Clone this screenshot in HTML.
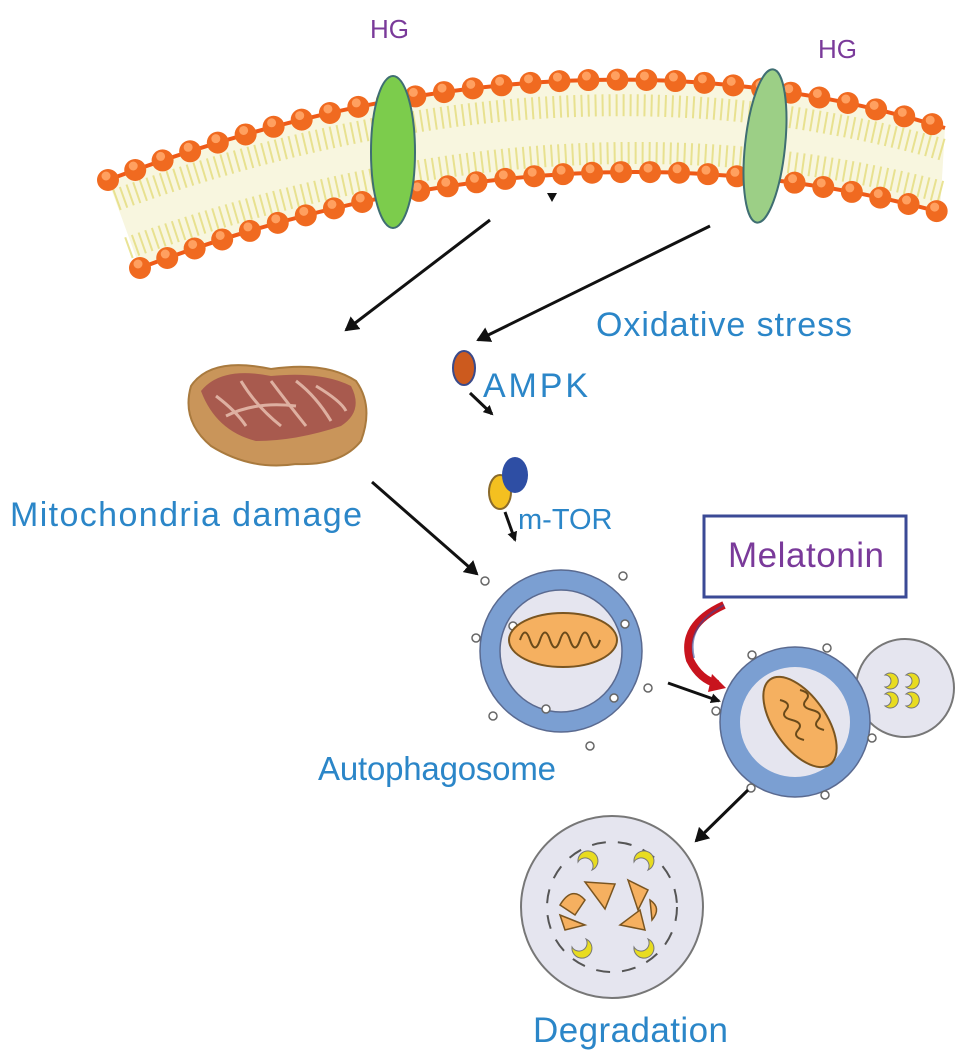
<!DOCTYPE html>
<html><head><meta charset="utf-8"><style>
html,body{margin:0;padding:0;background:#fff;}
svg{display:block;}
text{font-family:"Liberation Sans",sans-serif;}
</style></head><body>
<svg width="969" height="1061" viewBox="0 0 969 1061" xmlns="http://www.w3.org/2000/svg">
<defs>
<marker id="ah" markerWidth="10" markerHeight="10" refX="8" refY="5" orient="auto" markerUnits="userSpaceOnUse">
<path d="M0,0 L10,5 L0,10 z" fill="#111"/></marker>
<marker id="ah2" markerWidth="16" markerHeight="16" refX="12" refY="8" orient="auto" markerUnits="userSpaceOnUse">
<path d="M0,0 L14,8 L0,16 z" fill="#111"/></marker>
</defs>
<path d="M108,180 Q560,10 945,128 L940,212 Q560,110 140,268 Z" fill="#f8f6df"/>
<path d="M116,200 Q560,40 944,150" fill="none" stroke="#e3dc7a" stroke-width="22" stroke-dasharray="2 5" opacity="0.8"/>
<path d="M128,248 Q560,92 942,192" fill="none" stroke="#e3dc7a" stroke-width="22" stroke-dasharray="2 5" opacity="0.8"/>
<path d="M108,180 Q560,10 945,128" fill="none" stroke="#ef5a18" stroke-width="4"/>
<path d="M140,268 Q560,110 940,212" fill="none" stroke="#ef5a18" stroke-width="4"/>
<path d="M108,180 Q560,10 945,128" fill="none" stroke="#f06a20" stroke-width="22" stroke-linecap="round" stroke-dasharray="0 29"/>
<path d="M140,268 Q560,110 940,212" fill="none" stroke="#f06a20" stroke-width="22" stroke-linecap="round" stroke-dasharray="0 29"/>
<path d="M108,180 Q560,10 945,128" fill="none" stroke="#ffa060" stroke-width="9" stroke-linecap="round" stroke-dasharray="0 29" transform="translate(-2,-4)"/>
<path d="M140,268 Q560,110 940,212" fill="none" stroke="#ffa060" stroke-width="9" stroke-linecap="round" stroke-dasharray="0 29" transform="translate(-2,-4)"/>
<ellipse cx="393" cy="152" rx="22" ry="76" fill="#7ccc4c" stroke="#3f6e72" stroke-width="2"/>
<ellipse cx="765" cy="146" rx="20" ry="77" fill="#9ccf86" stroke="#3f6e72" stroke-width="2" transform="rotate(6 765 146)"/>
<path d="M547,193 L557,193 L552,202 z" fill="#111"/>
<text x="370" y="38" font-size="26" fill="#7a3a9a">HG</text>
<text x="818" y="58" font-size="26" fill="#7a3a9a">HG</text>
<line x1="490" y1="220" x2="346" y2="330" stroke="#111" stroke-width="3" marker-end="url(#ah2)"/>
<line x1="710" y1="226" x2="478" y2="340" stroke="#111" stroke-width="3" marker-end="url(#ah2)"/>
<text x="596" y="336" font-size="34" fill="#2b86c8" textLength="256">Oxidative stress</text>
<g transform="translate(-4,-14)">
<path d="M195,400 Q215,370 275,383 Q330,375 360,395 Q378,420 365,455 Q345,480 300,478 Q255,485 215,460 Q185,435 195,400 z" fill="#c9955a" stroke="#a97a3e" stroke-width="2"/>
<path d="M205,405 Q225,380 275,390 Q325,385 355,400 Q368,425 345,440 Q300,455 260,455 Q220,445 205,405 z" fill="#a85a4e"/>
<g stroke="#e8c0b0" stroke-width="3" fill="none" opacity="0.85">
<path d="M220,410 Q240,425 250,440"/><path d="M245,395 Q260,420 285,440"/><path d="M275,395 Q290,415 310,440"/><path d="M300,395 Q320,410 335,435"/><path d="M230,430 Q260,415 300,420"/><path d="M320,400 Q345,415 350,425"/>
</g></g>
<text x="10" y="526" font-size="34" fill="#2b86c8" textLength="352">Mitochondria damage</text>
<ellipse cx="464" cy="368" rx="11" ry="17" fill="#cc5a1e" stroke="#3a4a8a" stroke-width="2"/>
<text x="483" y="397" font-size="34" fill="#2b86c8" textLength="105">AMPK</text>
<line x1="470" y1="393" x2="492" y2="414" stroke="#111" stroke-width="3" marker-end="url(#ah)"/>
<ellipse cx="500" cy="492" rx="11" ry="17" fill="#f4c020" stroke="#8a6a2a" stroke-width="2"/>
<ellipse cx="515" cy="475" rx="13" ry="18" fill="#2e4ea4"/>
<text x="518" y="529" font-size="29" fill="#2b86c8">m-TOR</text>
<line x1="505" y1="512" x2="515" y2="540" stroke="#111" stroke-width="3" marker-end="url(#ah)"/>
<line x1="372" y1="482" x2="477" y2="574" stroke="#111" stroke-width="3" marker-end="url(#ah2)"/>
<circle cx="561" cy="651" r="71" fill="#e5e5ef" stroke="#7b9fd2" stroke-width="20"/>
<circle cx="561" cy="651" r="81" fill="none" stroke="#5a6a90" stroke-width="1.5"/>
<circle cx="561" cy="651" r="61" fill="none" stroke="#5a6a90" stroke-width="1.5"/>
<g fill="#fff" stroke="#666" stroke-width="1.5">
<circle cx="476" cy="638" r="4"/><circle cx="513" cy="626" r="4"/><circle cx="625" cy="624" r="4"/><circle cx="648" cy="688" r="4"/><circle cx="614" cy="698" r="4"/><circle cx="493" cy="716" r="4"/><circle cx="546" cy="709" r="4"/><circle cx="590" cy="746" r="4"/><circle cx="485" cy="581" r="4"/><circle cx="623" cy="576" r="4"/>
</g>
<ellipse cx="563" cy="640" rx="54" ry="27" fill="#f5b060" stroke="#7a5520" stroke-width="2"/>
<path d="M520,640 q5,-15 10,0 q5,15 10,0 q5,-15 10,0 q5,15 10,0 q5,-15 10,0 q5,15 10,0 q5,-15 10,0 q5,15 10,0" fill="none" stroke="#6a4a1a" stroke-width="2"/>
<text x="318" y="780" font-size="33" fill="#2b86c8" textLength="238">Autophagosome</text>
<rect x="704" y="516" width="202" height="81" fill="#fff" stroke="#3b4a96" stroke-width="3"/>
<text x="728" y="567" font-size="35" fill="#7a3a9a" textLength="156">Melatonin</text>
<path d="M724,605 Q680,625 690,660 Q700,680 718,684" fill="none" stroke="#c8141e" stroke-width="8"/>
<path d="M724,605 Q686,625 694,658" fill="none" stroke="#3b4a96" stroke-width="2" opacity="0.6"/>
<path d="M712,674 L726,688 L708,692 z" fill="#c8141e"/>
<line x1="668" y1="683" x2="719" y2="701" stroke="#111" stroke-width="3" marker-end="url(#ah)"/>
<circle cx="905" cy="688" r="49" fill="#e5e5ef" stroke="#777" stroke-width="2"/>
<g fill="#e8dc20" stroke="#777" stroke-width="1">
<path d="M885,675 a8,8 0 1 1 0,12 a5,5 0 1 0 0,-12z"/><path d="M906,675 a8,8 0 1 1 0,12 a5,5 0 1 0 0,-12z"/>
<path d="M885,694 a8,8 0 1 1 0,12 a5,5 0 1 0 0,-12z"/><path d="M906,694 a8,8 0 1 1 0,12 a5,5 0 1 0 0,-12z"/>
</g>
<circle cx="795" cy="722" r="65" fill="#e5e5ef" stroke="#7b9fd2" stroke-width="20"/>
<circle cx="795" cy="722" r="75" fill="none" stroke="#5a6a90" stroke-width="1.5"/>
<g fill="#fff" stroke="#666" stroke-width="1.5">
<circle cx="752" cy="655" r="4"/><circle cx="827" cy="648" r="4"/><circle cx="716" cy="711" r="4"/><circle cx="872" cy="738" r="4"/><circle cx="825" cy="795" r="4"/><circle cx="751" cy="788" r="4"/>
</g>
<ellipse cx="800" cy="722" rx="26" ry="52" fill="#f5b060" stroke="#7a5520" stroke-width="2" transform="rotate(-35 800 722)"/>
<path d="M780,700 q12,3 6,10 q-6,7 6,10 q12,3 6,10 q-6,7 6,10 M800,690 q12,3 6,10 q-6,7 6,10 q12,3 6,10 q-6,7 6,10" fill="none" stroke="#6a4a1a" stroke-width="2"/>
<line x1="748" y1="790" x2="696" y2="841" stroke="#111" stroke-width="3" marker-end="url(#ah2)"/>
<circle cx="612" cy="907" r="91" fill="#e5e5ef" stroke="#777" stroke-width="2"/>
<circle cx="612" cy="907" r="65" fill="none" stroke="#555" stroke-width="2" stroke-dasharray="14 12"/>
<g fill="#f5b060" stroke="#7a5520" stroke-width="1.5">
<path d="M560,905 q12,-20 25,-5 l-10,15 z"/><path d="M585,882 l30,2 l-10,25 z"/><path d="M628,880 l20,10 l-10,20 z"/><path d="M560,915 l25,10 l-20,5 z"/><path d="M620,925 l20,-15 l5,20 z"/><path d="M650,900 q12,8 2,20 z"/>
</g>
<g fill="#e8dc20" stroke="#777" stroke-width="1">
<path d="M578,862 a10,10 0 1 1 14,8 a6,6 0 1 0 -14,-8z"/><path d="M634,862 a10,10 0 1 1 14,8 a6,6 0 1 0 -14,-8z"/>
<path d="M572,947 a10,10 0 1 0 14,-8 a6,6 0 1 1 -14,8z"/><path d="M634,947 a10,10 0 1 0 14,-8 a6,6 0 1 1 -14,8z"/>
</g>
<text x="533" y="1042" font-size="35" fill="#2b86c8" textLength="195">Degradation</text>
</svg>
</body></html>
